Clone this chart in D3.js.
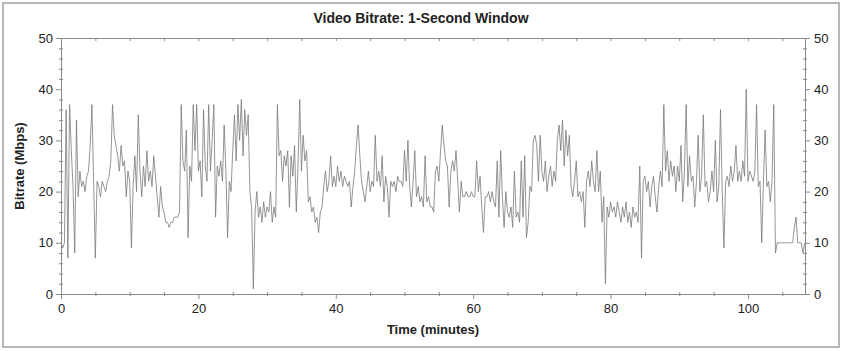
<!DOCTYPE html>
<html>
<head>
<meta charset="utf-8">
<script src="https://cdn.jsdelivr.net/npm/d3@7"></script>
<style>
  html, body { margin: 0; padding: 0; background: #fff; }
  svg text { font-family: Arial, "Liberation Sans", sans-serif; fill: #222; }
</style>
</head>
<body>
<div id="chart"></div>
<script>
// bitrate readings, one every quarter minute (Mbps)
const stepMinutes = 0.25;
const bitrate = [
  10, 9, 10, 36, 7, 37, 28, 21, 8, 34, 19, 24, 21, 22, 20, 23,
  24, 29, 37, 22, 7, 22, 21, 19, 22, 21, 20, 22, 23, 26, 37, 31,
  29, 27, 24, 29, 25, 26, 19, 24, 22, 9, 21, 27, 20, 35, 24, 19,
  25, 21, 28, 22, 24, 21, 27, 23, 19, 15, 21, 17, 16, 14, 14, 13,
  14, 14, 15, 15, 15, 16, 37, 26, 24, 32, 11, 25, 22, 37, 28, 37,
  24, 26, 19, 36, 25, 22, 37, 24, 30, 37, 15, 25, 23, 26, 22, 33,
  24, 11, 22, 20, 28, 35, 26, 37, 30, 38, 27, 36, 31, 35, 20, 17,
  1, 16, 20, 15, 17, 14, 18, 15, 17, 16, 20, 14, 17, 15, 37, 27,
  28, 22, 27, 25, 28, 17, 27, 23, 29, 16, 25, 38, 24, 31, 26, 28,
  18, 19, 16, 17, 14, 15, 12, 16, 17, 21, 24, 20, 22, 27, 21, 23,
  21, 25, 22, 24, 21, 23, 22, 21, 22, 17, 21, 24, 29, 33, 27, 22,
  20, 18, 21, 24, 20, 22, 21, 31, 22, 24, 21, 27, 18, 23, 21, 15,
  22, 21, 22, 20, 23, 22, 22, 21, 28, 22, 30, 21, 17, 22, 28, 19,
  21, 18, 19, 17, 27, 18, 19, 17, 17, 16, 24, 25, 22, 28, 33, 29,
  26, 25, 17, 24, 26, 24, 28, 22, 16, 22, 19, 19, 20, 19, 19, 20,
  19, 19, 26, 20, 23, 17, 12, 19, 19, 20, 18, 20, 18, 17, 26, 15,
  28, 19, 13, 20, 16, 15, 17, 13, 24, 15, 16, 14, 26, 15, 27, 11,
  14, 21, 20, 30, 31, 29, 22, 31, 24, 22, 26, 20, 23, 25, 21, 24,
  22, 30, 33, 28, 34, 25, 32, 27, 31, 21, 19, 22, 26, 19, 20, 18,
  20, 13, 22, 24, 21, 26, 22, 20, 28, 20, 24, 14, 19, 2, 17, 15,
  18, 16, 17, 15, 18, 16, 14, 17, 15, 18, 14, 16, 13, 17, 15, 16,
  14, 25, 7, 22, 23, 20, 22, 17, 21, 23, 19, 16, 21, 24, 21, 37,
  24, 28, 22, 26, 23, 25, 20, 25, 22, 29, 18, 24, 37, 21, 27, 22,
  23, 17, 22, 31, 20, 23, 35, 21, 22, 18, 20, 24, 20, 30, 18, 21,
  36, 20, 9, 22, 23, 21, 25, 22, 24, 29, 22, 24, 22, 26, 23, 40,
  22, 24, 23, 22, 24, 37, 21, 22, 10, 22, 32, 21, 22, 18, 22, 37,
  8, 10, 10, 10, 10, 10, 10, 10, 10, 10, 10, 13, 15, 10, 10, 10,
  8, 10
];

const yMajor = [0, 10, 20, 30, 40, 50];
const yMinor = [2, 4, 6, 8, 12, 14, 16, 18, 22, 24, 26, 28, 32, 34, 36, 38, 42, 44, 46, 48];
const xMajor = [0, 20, 40, 60, 80, 100];
const xMinor = [5, 10, 15, 25, 30, 35, 45, 50, 55, 65, 70, 75, 85, 90, 95, 105];

const W = 842, H = 351;
const m = { left: 61, right: 805, top: 38, bottom: 294 };

const svg = d3.select("#chart").append("svg")
  .attr("width", W).attr("height", H);

// outer frame
svg.append("rect")
  .attr("x", 3).attr("y", 3).attr("width", 836).attr("height", 344)
  .attr("fill", "#fff").attr("stroke", "#b8b8b8").attr("stroke-width", 2);

const x = d3.scaleLinear().domain([0, 108.3]).range([m.left, m.right]);
const y = d3.scaleLinear().domain([0, 50]).range([m.bottom, m.top]);

// series line
const line = d3.line()
  .x((d, i) => x(i * stepMinutes))
  .y(d => y(d));

svg.append("path")
  .datum(bitrate)
  .attr("fill", "none")
  .attr("stroke", "#7a7a7a")
  .attr("stroke-width", 0.8)
  .attr("stroke-linejoin", "round")
  .attr("d", line);

const axisColor = "#8a8a8a";
function styleAxis(g, hideDomain) {
  g.selectAll("line").attr("stroke", axisColor);
  g.select(".domain").attr("stroke", hideDomain ? "none" : axisColor);
  g.selectAll("text").attr("font-size", 13).attr("fill", "#222");
}

// left axis
svg.append("g").attr("transform", `translate(${m.left},0)`)
  .call(d3.axisLeft(y).tickValues(yMajor).tickSizeInner(5).tickSizeOuter(0).tickPadding(3))
  .call(g => styleAxis(g, false));
svg.append("g").attr("transform", `translate(${m.left + 2},0)`)
  .call(d3.axisLeft(y).tickValues(yMinor).tickSize(4).tickFormat(""))
  .call(g => styleAxis(g, true));

// right axis
svg.append("g").attr("transform", `translate(${m.right},0)`)
  .call(d3.axisRight(y).tickValues(yMajor).tickSizeInner(5).tickSizeOuter(0).tickPadding(4))
  .call(g => styleAxis(g, false));
svg.append("g").attr("transform", `translate(${m.right - 2},0)`)
  .call(d3.axisRight(y).tickValues(yMinor).tickSize(4).tickFormat(""))
  .call(g => styleAxis(g, true));

// bottom axis
svg.append("g").attr("transform", `translate(0,${m.bottom})`)
  .call(d3.axisBottom(x).tickValues(xMajor).tickSizeInner(5).tickSizeOuter(0).tickPadding(5))
  .call(g => styleAxis(g, false));
svg.append("g").attr("transform", `translate(0,${m.bottom - 2})`)
  .call(d3.axisBottom(x).tickValues(xMinor).tickSize(4).tickFormat(""))
  .call(g => styleAxis(g, true));

// top axis
svg.append("g").attr("transform", `translate(0,${m.top})`)
  .call(d3.axisTop(x).tickValues(xMajor.concat(xMinor)).tickSize(-3).tickSizeOuter(0).tickFormat(""))
  .call(g => styleAxis(g, false));

// titles
svg.append("text")
  .attr("x", 421).attr("y", 23)
  .attr("text-anchor", "middle")
  .attr("font-size", 14).attr("font-weight", "bold")
  .text("Video Bitrate: 1-Second Window");

svg.append("text")
  .attr("x", (m.left + m.right) / 2).attr("y", 334)
  .attr("text-anchor", "middle")
  .attr("font-size", 13).attr("font-weight", "bold")
  .text("Time (minutes)");

svg.append("text")
  .attr("transform", `translate(24,${(m.top + m.bottom) / 2}) rotate(-90)`)
  .attr("text-anchor", "middle")
  .attr("font-size", 13).attr("font-weight", "bold")
  .text("Bitrate (Mbps)");
</script>
</body>
</html>
